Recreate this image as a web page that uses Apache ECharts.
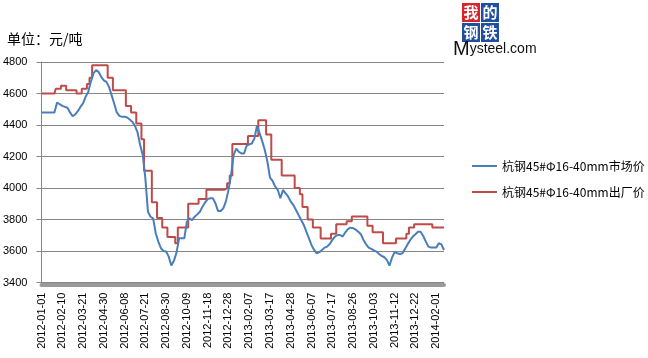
<!DOCTYPE html>
<html>
<head>
<meta charset="utf-8">
<script src="https://cdn.jsdelivr.net/npm/echarts@6/dist/echarts.min.js"></script>
<style>html,body{margin:0;padding:0;background:#fff}#c{width:648px;height:358px}</style>
</head>
<body>
<div id="c"></div>
<script>
// Tick labels shown on the x axis (one every 8 categories)
const tickLabels = ['2012-01-01','2012-02-10','2012-03-21','2012-04-30','2012-06-08','2012-07-21','2012-08-30','2012-10-09','2012-11-18','2012-12-28','2013-02-07','2013-03-17','2013-04-28','2013-06-07','2013-07-17','2013-08-26','2013-10-03','2013-11-12','2013-12-22','2014-02-01'];
const seriesNames = ['杭钢45#Φ16-40mm市场价','杭钢45#Φ16-40mm出厂价'];
// market price (blue)
const marketPrice = [
4480,4480,4480,4480,4480,4480,4543,4532,4522,4515,
4510,4480,4456,4467,4488,4515,4537,4579,4610,4674,
4727,4748,4737,4706,4684,4674,4642,4590,4537,4480,
4458,4452,4452,4448,4435,4420,4395,4353,4273,4210,
4061,3850,3818,3808,3713,3660,3618,3600,3597,3565,
3508,3538,3590,3681,3681,3681,3786,3808,3797,3818,
3833,3850,3882,3909,3930,3935,3935,3903,3854,3854,
3871,3914,3987,4082,4209,4251,4230,4220,4220,4268,
4277,4283,4315,4395,4347,4298,4241,4167,4066,4045,
4009,3988,3935,3988,3966,3945,3914,3892,3861,3829,
3797,3766,3723,3681,3637,3607,3586,3593,3607,3622,
3628,3645,3671,3692,3702,3702,3692,3719,3740,3749,
3745,3736,3723,3707,3671,3643,3622,3614,3605,3597,
3582,3569,3561,3544,3508,3559,3593,3586,3582,3586,
3614,3643,3671,3692,3707,3723,3723,3696,3660,3628,
3622,3622,3622,3650,3643,3607];
// ex-factory price (red)
const factoryPrice = [
4600,4600,4600,4600,4600,4600,4630,4630,4650,4650,
4620,4620,4620,4620,4600,4600,4630,4630,4660,4700,
4780,4780,4780,4780,4780,4780,4700,4700,4620,4620,
4620,4620,4620,4520,4520,4480,4480,4410,4410,4310,
4110,4110,4110,3910,3910,3810,3810,3750,3750,3690,
3690,3690,3650,3750,3750,3750,3750,3900,3900,3900,
3900,3930,3930,3930,3990,3990,3990,3990,3990,3990,
3990,4000,4030,4080,4280,4280,4280,4280,4280,4280,
4330,4330,4330,4330,4430,4430,4430,4340,4340,4180,
4180,4180,4180,4080,4080,4080,4080,4080,4000,4000,
3960,3880,3880,3800,3800,3750,3750,3750,3680,3680,
3680,3680,3710,3710,3770,3770,3770,3770,3790,3790,
3820,3820,3820,3820,3820,3820,3760,3760,3720,3720,
3720,3720,3650,3650,3650,3650,3650,3680,3680,3680,
3680,3710,3750,3750,3770,3770,3770,3770,3770,3770,
3770,3750,3750,3750,3750,3750];

// category dates: tick date followed by intermediate dates up to the next tick
const PER = 8;
const DAY = 864e5;
function fmt(t){const d=new Date(t);const m=d.getUTCMonth()+1, dd=d.getUTCDate();return d.getUTCFullYear()+'-'+(m<10?'0':'')+m+'-'+(dd<10?'0':'')+dd;}
const categories = [];
for (let i=0;i<tickLabels.length;i++){
  const a = Date.parse(tickLabels[i]+'T00:00:00Z');
  const b = i+1<tickLabels.length ? Date.parse(tickLabels[i+1]+'T00:00:00Z') : a+40*DAY;
  for (let k=0;k<PER;k++){
    categories.push(k===0 ? tickLabels[i] : fmt(a+Math.round(k*(b-a)/PER/DAY)*DAY));
  }
}
categories.length = marketPrice.length;

const chart = echarts.init(document.getElementById('c'), null, {renderer:'canvas'});
const gridColor = '#868686';
chart.setOption({
  animation:false,
  backgroundColor:'#fff',
  title:{text:'单位：元/吨', left:7, top:32, padding:0,
    textStyle:{fontSize:14, fontWeight:'normal', color:'#000', fontFamily:'Noto Sans CJK SC'}},
  legend:{orient:'vertical', left:472, top:160, padding:0, itemWidth:25, itemHeight:14, itemGap:14,
    icon:'path://M0,0 L25,0 L25,2 L0,2 Z',
    data:seriesNames,
    textStyle:{fontSize:12, color:'#000', fontFamily:'Noto Sans CJK SC'}},
  grid:{left:41, top:62, right:204, bottom:75.4, containLabel:false},
  xAxis:{type:'category', data:categories, boundaryGap:false, offset:2,
    axisLine:{lineStyle:{color:'#9a9a9a', width:4}},
    axisTick:{show:false},
    axisLabel:{interval:PER-1, rotate:90, margin:8, fontSize:11, color:'#000', fontFamily:'Liberation Sans'},
    splitLine:{show:false}},
  yAxis:{type:'value', min:3400, max:4800, interval:200,
    axisLine:{show:true, lineStyle:{color:gridColor, width:1}},
    axisTick:{show:true, length:5, lineStyle:{color:gridColor}},
    axisLabel:{margin:14, fontSize:11, color:'#000', fontFamily:'Liberation Sans', formatter:function(v){return String(v);}},
    splitLine:{lineStyle:{color:gridColor, width:1}}},
  series:[
    {name:seriesNames[0], type:'line', data:marketPrice, symbol:'none', z:3,
      lineStyle:{color:'#4a7ebb', width:2}, itemStyle:{color:'#4a7ebb'}},
    {name:seriesNames[1], type:'line', data:factoryPrice, symbol:'none', step:'middle', z:2,
      lineStyle:{color:'#be4b48', width:2}, itemStyle:{color:'#be4b48'}}
  ],
  graphic:[
    {type:'rect', shape:{x:462,y:3,width:18,height:19}, style:{fill:'#d8232a'}},
    {type:'rect', shape:{x:481,y:3,width:18,height:19}, style:{fill:'#1f4f9e'}},
    {type:'rect', shape:{x:462,y:23,width:18,height:19}, style:{fill:'#1f4f9e'}},
    {type:'rect', shape:{x:481,y:23,width:18,height:19}, style:{fill:'#1f4f9e'}},
    {type:'text', x:471, y:12.5, style:{text:'我', fill:'#fff', font:'bold 15px "Noto Sans CJK SC"', align:'center', verticalAlign:'middle'}},
    {type:'text', x:490, y:12.5, style:{text:'的', fill:'#fff', font:'bold 15px "Noto Sans CJK SC"', align:'center', verticalAlign:'middle'}},
    {type:'text', x:471, y:32.5, style:{text:'钢', fill:'#fff', font:'bold 15px "Noto Sans CJK SC"', align:'center', verticalAlign:'middle'}},
    {type:'text', x:490, y:32.5, style:{text:'铁', fill:'#fff', font:'bold 15px "Noto Sans CJK SC"', align:'center', verticalAlign:'middle'}},
    {type:'text', x:453, y:59, style:{text:'{a|M}{b|ysteel.com}', verticalAlign:'bottom',
      rich:{a:{fontSize:20, fontFamily:'Liberation Sans', fill:'#111'},
            b:{fontSize:14, fontFamily:'Liberation Sans', fill:'#111'}}}}
  ]
});
</script>
</body>
</html>
